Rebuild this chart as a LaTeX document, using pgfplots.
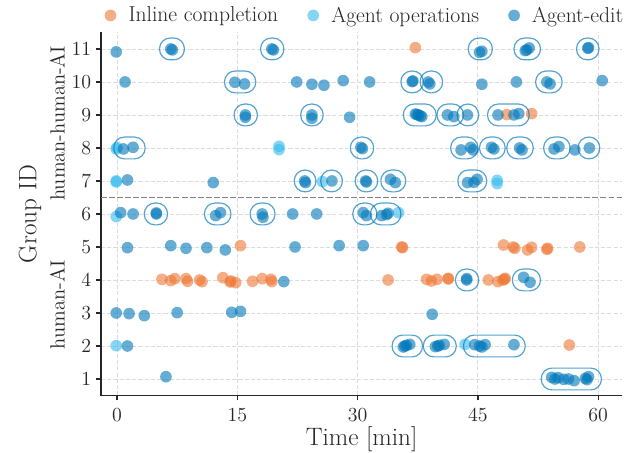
\documentclass[border=0pt]{standalone}
\usepackage{pgfplots}
\pgfplotsset{compat=1.18}
\definecolor{corange}{HTML}{EE7733}
\definecolor{ccyan}{HTML}{33BBEE}
\definecolor{cblue}{HTML}{0077BB}
\definecolor{txt}{HTML}{262626}
\newcommand{\capsule}[4]{\draw[cblue, draw opacity=0.68, line width=0.85bp, rounded corners=7.6bp] (axis cs:#1,#3) rectangle (axis cs:#2,#4);}
\begin{document}
\begin{tikzpicture}
\path[use as bounding box] (-72.72bp,-41.4bp) rectangle (384.48bp,284.76bp);
\begin{axis}[
  at={(0,0)}, anchor=south west,
  scale only axis, width=375.3bp, height=261.4bp,
  xmin=-2, xmax=63, ymin=0.5, ymax=11.5,
  clip mode=individual,
  axis x line*=bottom, axis y line*=left,
  axis line style={-, line width=1.1bp, color=txt},
  xtick={0,15,30,45,60}, ytick={1,2,3,4,5,6,7,8,9,10,11},
  tick align=outside, major tick length=3.5bp,
  tick style={line width=0.9bp, color=txt},
  ticklabel style={font=\fontsize{13.3}{15}\selectfont, color=txt},
  xticklabel style={yshift=-2.2bp},
  grid=major, major grid style={dash pattern=on 3bp off 1.5bp, line width=0.6bp, color=black!14},
  xlabel={Time [min]}, ylabel={Group ID},
  label style={font=\fontsize{18.2}{21}\selectfont, color=txt},
  xlabel style={at={(axis description cs:0.5,-0.119)}, anchor=center},
  ylabel style={at={(axis description cs:-0.1362,0.5)}, anchor=center},
  legend columns=3,
  legend style={draw=none, fill=none, at={(axis description cs:0.0065,1.0468)}, anchor=west, inner sep=0pt,
    font=\fontsize{15.6}{18}\selectfont, text=txt,
    /tikz/every odd column/.append style={column sep=6.8bp},
    /tikz/every even column/.append style={column sep=19bp}},
  legend image code/.code={\draw[#1] plot coordinates {(0cm,0cm)};},
]
% Inline completion
\addplot[only marks, color=corange, mark=*, mark size=4.2bp, mark options={draw=none, draw opacity=0, fill=corange, fill opacity=0.6}] coordinates {
(37.2,11.04)
(48.6,9.01) (51.7,9.04)
(15.4,5.04) (35.5,5.0) (35.6,4.98) (48.2,5.06) (49.4,5.0) (49.6,4.96) (51.2,4.91) (51.7,4.99) (53.6,4.93) (53.7,4.96) (57.7,5.0)
(5.6,4.02) (6.7,3.98) (7.2,4.04) (8.6,4.04) (8.8,3.96) (10.3,4.0) (10.6,3.95) (13.2,4.07) (14.1,3.94) (14.2,3.97) (14.8,3.92) (16.9,3.96) (18.1,4.04) (19.2,4.02) (19.3,3.95) (33.8,4.0) (38.6,4.02) (39.2,3.97) (39.9,4.02) (41.3,4.05) (41.3,4.03) (46.3,4.0) (47.5,3.95) (48.1,4.0) (48.3,4.02) (48.4,4.05)
(56.4,2.03)
};
% Agent operations
\addplot[only marks, color=ccyan, mark=*, mark size=4.2bp, mark options={draw=none, draw opacity=0, fill=ccyan, fill opacity=0.6}] coordinates {
(-0.1,7.97) (0.0,8.01) (20.2,8.05) (20.2,7.95)
(-0.1,7.0) (-0.1,6.97) (25.6,6.98) (47.4,7.02) (47.4,6.92)
(-0.1,5.92) (35.1,6.04)
(-0.1,2.01) (43.4,2.05)
};
% Agent-edit
\addplot[only marks, color=cblue, mark=*, mark size=4.2bp, mark options={draw=none, draw opacity=0, fill=cblue, fill opacity=0.6}] coordinates {
(-0.1,10.91) (6.7,11.0) (6.9,10.97) (19.3,11.0) (19.5,10.97) (45.2,10.9) (45.5,10.93) (50.9,10.95) (51.4,11.03) (51.1,10.97) (58.7,11.02) (58.8,11.04)
(1.0,10.0) (14.7,9.99) (15.9,9.94) (22.4,10.0) (24.3,9.93) (25.8,9.9) (28.2,10.04) (31.5,10.0) (36.8,10.01) (36.9,10.03) (39.0,9.94) (38.8,10.0) (45.5,9.93) (49.8,10.0) (53.6,10.0) (54.0,9.94) (60.5,10.04)
(16.0,9.0) (16.0,8.93) (24.3,9.0) (24.3,8.9) (29.0,8.93) (37.2,9.03) (37.6,9.0) (38.0,8.95) (37.4,9.01) (37.8,8.97) (41.2,9.0) (42.0,8.95) (43.7,9.0) (47.5,9.0) (49.5,9.0) (50.1,9.04)
(0.8,7.97) (2.0,8.02) (30.4,8.02) (30.6,7.98) (42.9,7.94) (44.1,8.02) (44.4,7.94) (46.7,8.02) (47.0,7.97) (50.2,8.0) (50.5,7.94) (54.5,7.97) (55.1,8.04) (57.1,7.94) (58.9,8.0)
(1.3,7.03) (12.0,6.95) (23.4,7.0) (23.5,6.95) (26.8,7.0) (31.0,7.0) (31.1,6.97) (34.1,7.05) (34.7,6.95) (43.7,6.95) (44.9,7.05) (44.5,6.96)
(0.45,6.04) (2.0,6.0) (4.9,6.0) (4.9,6.03) (12.3,5.95) (12.9,6.04) (18.1,6.0) (18.2,5.9) (21.9,6.0) (24.9,6.0) (30.7,6.04) (31.1,5.95) (33.0,5.95) (33.8,6.02) (33.6,5.98)
(1.3,4.98) (6.7,5.04) (8.6,4.96) (11.2,4.98) (13.5,4.91) (22.2,5.0) (27.7,5.04) (30.7,5.04)
(20.8,3.95) (43.6,4.04) (43.6,4.0) (50.7,4.08) (51.5,3.93)
(-0.1,3.0) (1.5,2.98) (3.4,2.92) (7.5,3.01) (14.3,3.02) (15.4,3.05) (39.3,2.96)
(1.3,2.0) (35.7,1.97) (36.1,2.02) (36.5,2.05) (35.9,2.0) (39.7,1.98) (40.2,2.02) (40.8,2.05) (40.0,2.0) (44.6,2.04) (45.5,1.97) (45.9,2.04) (45.2,2.0) (49.5,2.04)
(6.1,1.07) (54.2,1.05) (55.0,1.04) (55.7,0.99) (57.0,0.95) (58.4,1.02) (58.8,1.07) (54.6,1.0) (56.3,1.0) (58.6,0.98)
};
\legend{Inline completion, Agent operations, Agent-edit}
% separator
\draw[color=black!50, line width=0.95bp, dash pattern=on 4.3bp off 1.5bp] (axis cs:-2,6.5) -- (axis cs:63,6.5);
% capsules
\capsule{5.3}{8.4}{10.67}{11.33}
\capsule{17.9}{20.8}{10.67}{11.33}
\capsule{43.8}{46.8}{10.67}{11.33}
\capsule{49.5}{52.8}{10.67}{11.33}
\capsule{57.3}{60.1}{10.67}{11.33}
\capsule{13.4}{17.3}{9.67}{10.33}
\capsule{35.4}{38.2}{9.67}{10.33}
\capsule{37.8}{40.6}{9.67}{10.33}
\capsule{52.2}{55.5}{9.67}{10.33}
\capsule{14.6}{17.5}{8.67}{9.33}
\capsule{22.9}{25.7}{8.67}{9.33}
\capsule{35.7}{39.8}{8.67}{9.33}
\capsule{39.9}{43.2}{8.67}{9.33}
\capsule{42.4}{45.1}{8.67}{9.33}
\capsule{46.2}{51.4}{8.67}{9.33}
\capsule{-0.4}{3.5}{7.67}{8.33}
\capsule{29.1}{32.0}{7.67}{8.33}
\capsule{41.6}{45.0}{7.67}{8.33}
\capsule{45.2}{48.4}{7.67}{8.33}
\capsule{48.6}{51.9}{7.67}{8.33}
\capsule{53.2}{56.5}{7.67}{8.33}
\capsule{57.5}{60.2}{7.67}{8.33}
\capsule{22.1}{24.8}{6.67}{7.33}
\capsule{25.4}{28.1}{6.67}{7.33}
\capsule{29.7}{32.5}{6.67}{7.33}
\capsule{32.9}{36.0}{6.67}{7.33}
\capsule{42.5}{46.1}{6.67}{7.33}
\capsule{3.4}{6.3}{5.67}{6.33}
\capsule{10.9}{14.2}{5.67}{6.33}
\capsule{16.6}{19.7}{5.67}{6.33}
\capsule{29.4}{32.4}{5.67}{6.33}
\capsule{31.6}{35.4}{5.67}{6.33}
\capsule{42.2}{45.1}{3.67}{4.33}
\capsule{49.3}{52.8}{3.67}{4.33}
\capsule{34.3}{38.1}{1.67}{2.33}
\capsule{38.2}{42.3}{1.67}{2.33}
\capsule{43.2}{50.9}{1.67}{2.33}
\capsule{52.9}{60.4}{0.67}{1.33}
% group labels
\node[rotate=90, font=\fontsize{14.8}{17}\selectfont, text=txt] at (axis description cs:-0.0834,0.75) {human-human-AI};
\node[rotate=90, font=\fontsize{14.8}{17}\selectfont, text=txt] at (axis description cs:-0.0834,0.25) {human-AI};
\end{axis}
\end{tikzpicture}
\end{document}
